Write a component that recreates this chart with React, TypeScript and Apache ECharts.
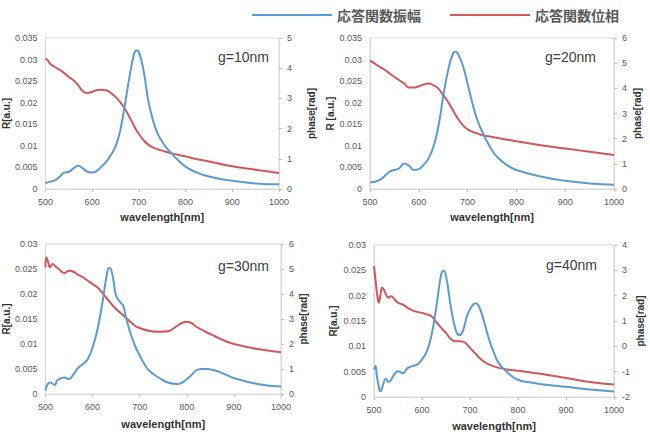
import React, { useEffect, useRef } from "react";
import * as echarts from "echarts";

const ampName = "応答関数振幅";
const phaseName = "応答関数位相";
const gapLabels = ["g=10nm", "g=20nm", "g=30nm", "g=40nm"];

// g=10nm
const g10RWl = [500, 510, 520, 530, 540, 550, 560, 570, 580, 590, 600, 610, 620, 630, 640, 650, 660, 670, 680, 690, 695, 700, 710, 720, 730, 740, 750, 760, 770, 780, 800, 820, 850, 900, 950, 1000];
const g10R = [0.0013, 0.0017, 0.002, 0.0028, 0.0038, 0.004, 0.0048, 0.0054, 0.0048, 0.004, 0.0038, 0.0042, 0.0052, 0.0063, 0.0079, 0.0098, 0.0135, 0.0195, 0.026, 0.0314, 0.0321, 0.0318, 0.0275, 0.0206, 0.016, 0.0129, 0.011, 0.0094, 0.0083, 0.0071, 0.0052, 0.004, 0.0029, 0.0019, 0.0013, 0.0011];
const g10PhWl = [500, 505, 510, 520, 530, 540, 550, 560, 570, 580, 590, 600, 610, 620, 630, 640, 650, 660, 670, 680, 690, 700, 710, 720, 730, 740, 750, 770, 800, 820, 850, 890, 950, 1000];
const g10Ph = [4.32, 4.26, 4.15, 4.04, 3.95, 3.84, 3.71, 3.6, 3.44, 3.24, 3.18, 3.22, 3.27, 3.29, 3.27, 3.18, 3.05, 2.88, 2.66, 2.38, 2.08, 1.82, 1.62, 1.47, 1.38, 1.32, 1.27, 1.18, 1.08, 1.0, 0.91, 0.78, 0.64, 0.53];

// g=20nm
const g20RWl = [500, 520, 540, 550, 560, 570, 580, 590, 600, 610, 620, 630, 640, 650, 660, 670, 675, 680, 690, 700, 710, 720, 730, 740, 750, 760, 780, 800, 850, 900, 950, 1000];
const g20R = [0.0015, 0.0021, 0.004, 0.0044, 0.0048, 0.0059, 0.0054, 0.0044, 0.0046, 0.0056, 0.0071, 0.0098, 0.0144, 0.0214, 0.0275, 0.0314, 0.0318, 0.0314, 0.0287, 0.0244, 0.0198, 0.016, 0.0133, 0.011, 0.009, 0.0075, 0.0056, 0.0044, 0.0029, 0.0019, 0.0013, 0.001];
const g20PhWl = [500, 510, 520, 530, 540, 550, 560, 570, 580, 590, 600, 610, 620, 630, 640, 650, 660, 670, 680, 690, 700, 710, 720, 730, 750, 770, 800, 850, 900, 950, 1000];
const g20Ph = [5.11, 4.98, 4.85, 4.74, 4.59, 4.45, 4.32, 4.19, 4.03, 4.03, 4.08, 4.15, 4.19, 4.12, 3.99, 3.73, 3.46, 3.13, 2.8, 2.54, 2.37, 2.27, 2.21, 2.14, 2.07, 2.0, 1.9, 1.74, 1.61, 1.48, 1.35];

// g=30nm
const g30RWl = [500, 505, 510, 520, 525, 540, 550, 560, 570, 580, 590, 600, 610, 620, 630, 635, 640, 645, 650, 660, 665, 670, 680, 690, 700, 710, 720, 740, 760, 780, 790, 800, 810, 820, 830, 840, 860, 880, 900, 950, 1000];
const g30R = [0.0007, 0.002, 0.0023, 0.0018, 0.0027, 0.0033, 0.003, 0.004, 0.0053, 0.006, 0.007, 0.0093, 0.0127, 0.0177, 0.0237, 0.0252, 0.0247, 0.0223, 0.0197, 0.0182, 0.0177, 0.0157, 0.0123, 0.0097, 0.0077, 0.006, 0.0047, 0.0033, 0.0023, 0.002, 0.0023, 0.003, 0.0038, 0.0047, 0.005, 0.005, 0.0047, 0.004, 0.0032, 0.002, 0.0015];
const g30PhWl = [500, 502, 505, 510, 515, 520, 530, 540, 550, 560, 570, 580, 590, 600, 610, 620, 630, 640, 650, 660, 670, 680, 690, 700, 720, 740, 760, 770, 780, 790, 800, 810, 820, 840, 860, 880, 900, 950, 1000];
const g30Ph = [5.07, 5.47, 5.33, 5.07, 5.2, 5.13, 4.97, 4.84, 4.93, 4.89, 4.76, 4.67, 4.53, 4.4, 4.27, 4.07, 3.83, 3.6, 3.4, 3.23, 3.07, 2.89, 2.73, 2.64, 2.53, 2.49, 2.51, 2.6, 2.73, 2.84, 2.89, 2.84, 2.69, 2.49, 2.31, 2.13, 2.0, 1.8, 1.67];

// g=40nm
const g40RWl = [500, 503, 506, 510, 513, 516, 520, 525, 530, 535, 540, 550, 560, 570, 580, 590, 600, 610, 620, 630, 640, 645, 650, 660, 670, 678, 685, 695, 705, 712, 720, 730, 740, 750, 760, 780, 800, 830, 860, 900, 950, 1000];
const g40R = [0.0054, 0.0061, 0.0041, 0.0021, 0.0011, 0.0015, 0.0028, 0.0036, 0.003, 0.0033, 0.0041, 0.0051, 0.0047, 0.0057, 0.0061, 0.0064, 0.0074, 0.009, 0.0123, 0.0179, 0.0242, 0.0249, 0.0239, 0.0179, 0.0133, 0.0122, 0.013, 0.0163, 0.0181, 0.0185, 0.0176, 0.0146, 0.0113, 0.0087, 0.0067, 0.0047, 0.0034, 0.0028, 0.0024, 0.002, 0.0015, 0.0011];
const g40PhWl = [500, 503, 507, 510, 513, 517, 520, 525, 530, 535, 540, 550, 560, 570, 580, 590, 600, 610, 620, 630, 640, 650, 660, 670, 680, 690, 700, 710, 720, 730, 740, 760, 780, 800, 850, 900, 950, 1000];
const g40Ph = [3.17, 2.64, 1.98, 1.72, 1.98, 2.31, 2.25, 2.05, 1.92, 1.98, 1.92, 1.72, 1.65, 1.52, 1.42, 1.36, 1.32, 1.26, 1.19, 0.95, 0.73, 0.53, 0.29, 0.2, 0.2, 0.14, -0.06, -0.26, -0.46, -0.62, -0.72, -0.85, -0.92, -0.96, -1.09, -1.25, -1.41, -1.51];

const rAxisNames = ["R[a.u.]", "R [a.u.]", "R[a.u.]", "R[a.u.]"];
const rMax = [0.035, 0.035, 0.03, 0.03];
const phMin = [0, 0, 0, -2];
const phMax = [5, 6, 6, 4];

const BLUE = "#5B9BD5";
const RED = "#D0575A";
const GRAY = "#D9D9D9";
const LABEL = "#595959";

const zip = (xs: number[], ys: number[]) => xs.map((x, i) => [x, ys[i]]);

export default function App() {
  const ref = useRef<HTMLDivElement>(null);
  useEffect(() => {
    if (!ref.current) return;
    const chart = echarts.init(ref.current, null, { renderer: "svg" });
    const grids = [
      { left: 41, top: 38, width: 238, height: 151 },
      { left: 370, top: 38, width: 244, height: 151 },
      { left: 41, top: 244, width: 240, height: 150 },
      { left: 374, top: 245, width: 240, height: 152 },
    ];
    const leftGap = [30, 35, 29, 36];
    const rightGap = [27, 18, 17, 21];
    const xNameGap = [22, 22, 24, 23];
    const titlePos = [
      { left: 218, top: 50 },
      { left: 545, top: 50 },
      { left: 218, top: 259 },
      { left: 546, top: 258 },
    ];
    const rData = [zip(g10RWl, g10R), zip(g20RWl, g20R), zip(g30RWl, g30R), zip(g40RWl, g40R)];
    const pData = [zip(g10PhWl, g10Ph), zip(g20PhWl, g20Ph), zip(g30PhWl, g30Ph), zip(g40PhWl, g40Ph)];
    const axisLabel = { color: LABEL, fontSize: 9, fontFamily: "Liberation Sans, Arial, sans-serif", formatter: (v: number) => String(v) };
    const nameStyle = { color: "#333", fontSize: 10, fontWeight: "bold" as const, fontFamily: "Liberation Sans, Arial, sans-serif" };
    const axisLine = { show: true, lineStyle: { color: GRAY } };
    const axisTick = { show: true, length: 3, lineStyle: { color: "#BFBFBF" } };

    const xAxis: any[] = [];
    const yAxis: any[] = [];
    const series: any[] = [];
    grids.forEach((_, i) => {
      xAxis.push({
        type: "value", gridIndex: i, min: 500, max: 1000, interval: 100,
        name: "wavelength[nm]", nameLocation: "middle", nameGap: xNameGap[i],
        nameTextStyle: { ...nameStyle, fontSize: 11 },
        axisLine, axisTick, axisLabel: { ...axisLabel, margin: 8 }, splitLine: { show: false },
      });
      yAxis.push({
        type: "value", gridIndex: i, min: 0, max: rMax[i], interval: 0.005, position: "left",
        name: rAxisNames[i], nameLocation: "middle", nameGap: leftGap[i], nameRotate: 90,
        nameTextStyle: nameStyle,
        axisLine, axisTick: { show: false }, axisLabel: { ...axisLabel, margin: 8 }, splitLine: { show: false },
      });
      yAxis.push({
        type: "value", gridIndex: i, min: phMin[i], max: phMax[i], interval: 1, position: "right",
        name: "phase[rad]", nameLocation: "middle", nameGap: rightGap[i], nameRotate: 90,
        nameTextStyle: nameStyle,
        axisLine, axisTick, axisLabel: { ...axisLabel, margin: 8 }, splitLine: { show: false },
      });
      series.push({
        name: ampName, type: "line", xAxisIndex: i, yAxisIndex: 2 * i, data: rData[i],
        smooth: true, showSymbol: false, symbol: "none", lineStyle: { color: BLUE, width: 2 }, itemStyle: { color: BLUE },
        z: 3,
      });
      series.push({
        name: phaseName, type: "line", xAxisIndex: i, yAxisIndex: 2 * i + 1, data: pData[i],
        smooth: true, showSymbol: false, symbol: "none", lineStyle: { color: RED, width: 2 }, itemStyle: { color: RED },
        z: 2,
      });
    });

    chart.setOption({
      animation: false,
      backgroundColor: "#fff",
      title: gapLabels.map((t, i) => ({
        text: t, left: titlePos[i].left, top: titlePos[i].top, padding: 0,
        textStyle: { fontSize: 14, fontWeight: "normal", color: "#404040", fontFamily: "Liberation Sans, Arial, sans-serif" },
      })),
      legend: {
        data: [ampName, phaseName], left: 247, top: 3, itemWidth: 80, itemHeight: 12, itemGap: 29,
        icon: "path://M0,5 L80,5 L80,7 L0,7 Z",
        textStyle: { color: LABEL, fontSize: 14, fontWeight: "bold", fontFamily: "Noto Sans CJK JP, sans-serif" },
      },
      grid: grids.map((g) => ({ ...g, show: true, borderColor: GRAY, borderWidth: 1 })),
      xAxis, yAxis, series,
    });
    return () => chart.dispose();
  }, []);
  return <div ref={ref} style={{ position: "absolute", left: 0, top: 0, width: 650, height: 432 }} />;
}
